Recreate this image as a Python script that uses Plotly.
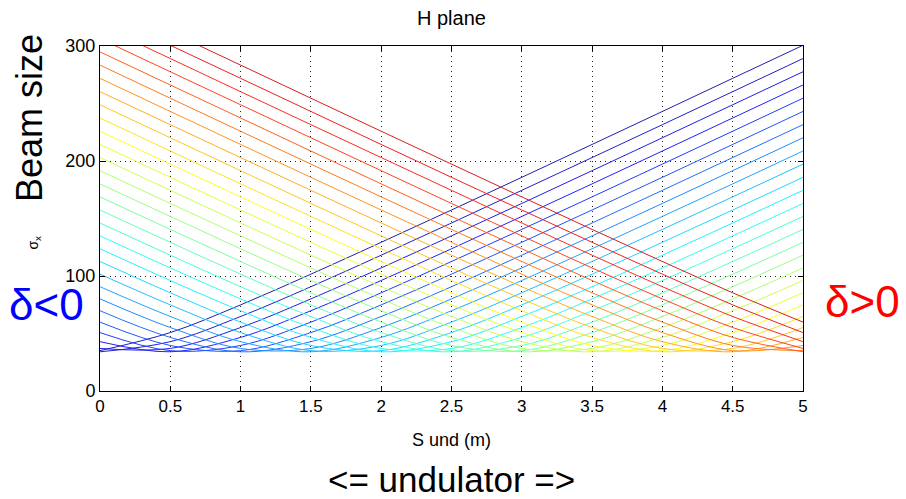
import plotly.graph_objects as go

# ---- data ----
s_und = [0.0, 0.5, 1.0, 1.5, 2.0, 2.5, 3.0, 3.5, 4.0, 4.5, 5.0]
x_ticks = [0, 0.5, 1, 1.5, 2, 2.5, 3, 3.5, 4, 4.5, 5]
x_tick_labels = ["0", "0.5", "1", "1.5", "2", "2.5", "3", "3.5", "4", "4.5", "5"]
y_ticks = [0, 100, 200, 300]
y_tick_labels = ["0", "100", "200", "300"]

sx_01 = [35.1, 50.8, 74.9, 101.6, 129.3, 157.4, 185.8, 214.4, 243.1, 271.9, 300.6]
sx_02 = [34.1, 42.9, 64.8, 90.7, 118.1, 146.1, 174.5, 203.0, 231.6, 260.3, 289.1]
sx_03 = [37.0, 37.0, 55.2, 80.1, 107.0, 134.9, 163.1, 191.6, 220.2, 248.9, 277.6]
sx_04 = [42.9, 34.1, 46.6, 69.8, 96.1, 123.7, 151.8, 180.1, 208.7, 237.4, 266.1]
sx_05 = [50.8, 35.1, 39.6, 59.9, 85.4, 112.6, 140.5, 168.8, 197.3, 225.9, 254.6]
sx_06 = [59.9, 39.6, 35.1, 50.8, 74.9, 101.6, 129.3, 157.4, 185.8, 214.4, 243.1]
sx_07 = [69.8, 46.6, 34.1, 42.9, 64.8, 90.7, 118.1, 146.1, 174.5, 203.0, 231.6]
sx_08 = [80.1, 55.2, 37.0, 37.0, 55.2, 80.1, 107.0, 134.9, 163.1, 191.6, 220.2]
sx_09 = [90.7, 64.8, 42.9, 34.1, 46.6, 69.8, 96.1, 123.7, 151.8, 180.1, 208.7]
sx_10 = [101.6, 74.9, 50.8, 35.1, 39.6, 59.9, 85.4, 112.6, 140.5, 168.8, 197.3]
sx_11 = [112.6, 85.4, 59.9, 39.6, 35.1, 50.8, 74.9, 101.6, 129.3, 157.4, 185.8]
sx_12 = [123.7, 96.1, 69.8, 46.6, 34.1, 42.9, 64.8, 90.7, 118.1, 146.1, 174.5]
sx_13 = [134.9, 107.0, 80.1, 55.2, 37.0, 37.0, 55.2, 80.1, 107.0, 134.9, 163.1]
sx_14 = [146.1, 118.1, 90.7, 64.8, 42.9, 34.1, 46.6, 69.8, 96.1, 123.7, 151.8]
sx_15 = [157.4, 129.3, 101.6, 74.9, 50.8, 35.1, 39.6, 59.9, 85.4, 112.6, 140.5]
sx_16 = [168.8, 140.5, 112.6, 85.4, 59.9, 39.6, 35.1, 50.8, 74.9, 101.6, 129.3]
sx_17 = [180.1, 151.8, 123.7, 96.1, 69.8, 46.6, 34.1, 42.9, 64.8, 90.7, 118.1]
sx_18 = [191.6, 163.1, 134.9, 107.0, 80.1, 55.2, 37.0, 37.0, 55.2, 80.1, 107.0]
sx_19 = [203.0, 174.5, 146.1, 118.1, 90.7, 64.8, 42.9, 34.1, 46.6, 69.8, 96.1]
sx_20 = [214.4, 185.8, 157.4, 129.3, 101.6, 74.9, 50.8, 35.1, 39.6, 59.9, 85.4]
sx_21 = [225.9, 197.3, 168.8, 140.5, 112.6, 85.4, 59.9, 39.6, 35.1, 50.8, 74.9]
sx_22 = [237.4, 208.7, 180.1, 151.8, 123.7, 96.1, 69.8, 46.6, 34.1, 42.9, 64.8]
sx_23 = [248.9, 220.2, 191.6, 163.1, 134.9, 107.0, 80.1, 55.2, 37.0, 37.0, 55.2]
sx_24 = [260.3, 231.6, 203.0, 174.5, 146.1, 118.1, 90.7, 64.8, 42.9, 34.1, 46.6]
sx_25 = [271.9, 243.1, 214.4, 185.8, 157.4, 129.3, 101.6, 74.9, 50.8, 35.1, 39.6]
sx_26 = [283.4, 254.6, 225.9, 197.3, 168.8, 140.5, 112.6, 85.4, 59.9, 39.6, 35.1]
sx_27 = [294.9, 266.1, 237.4, 208.7, 180.1, 151.8, 123.7, 96.1, 69.8, 46.6, 34.1]
sx_28 = [306.4, 277.6, 248.9, 220.2, 191.6, 163.1, 134.9, 107.0, 80.1, 55.2, 37.0]
sx_29 = [317.9, 289.1, 260.3, 231.6, 203.0, 174.5, 146.1, 118.1, 90.7, 64.8, 42.9]
sx_30 = [329.5, 300.6, 271.9, 243.1, 214.4, 185.8, 157.4, 129.3, 101.6, 74.9, 50.8]
sx_31 = [341.0, 312.2, 283.4, 254.6, 225.9, 197.3, 168.8, 140.5, 112.6, 85.4, 59.9]

curves = [sx_01, sx_02, sx_03, sx_04, sx_05, sx_06, sx_07, sx_08, sx_09, sx_10,
          sx_11, sx_12, sx_13, sx_14, sx_15, sx_16, sx_17, sx_18, sx_19, sx_20,
          sx_21, sx_22, sx_23, sx_24, sx_25, sx_26, sx_27, sx_28, sx_29, sx_30, sx_31]


def jet(t, lighten=0.12):
    def c(v):
        return max(0.0, min(1.0, v))
    r = c(1.5 - abs(4 * t - 3))
    g = c(1.5 - abs(4 * t - 2))
    b = c(1.5 - abs(4 * t - 1))
    r, g, b = (v + (1 - v) * lighten for v in (r, g, b))
    return "rgb(%d,%d,%d)" % (round(255 * r), round(255 * g), round(255 * b))


FONT = "Liberation Sans"
fig = go.Figure()
n = len(curves)
for i, ys in enumerate(curves):
    t = 0.04 + 0.88 * i / (n - 1)
    fig.add_trace(go.Scatter(
        x=s_und, y=ys, mode="lines",
        line=dict(color=jet(t), width=1, shape="spline"),
        showlegend=False, hoverinfo="skip"))

axis_common = dict(
    showline=True, linecolor="black", linewidth=1, mirror="ticks",
    ticks="inside", ticklen=5, tickcolor="black",
    showgrid=True, gridcolor="#222222", griddash="1px,4px", gridwidth=1,
    zeroline=False, tickfont=dict(family=FONT, size=17, color="black"),
)

fig.update_layout(
    width=906, height=499,
    margin=dict(l=100, r=103, t=46, b=108),
    paper_bgcolor="white", plot_bgcolor="white",
    xaxis=dict(range=[0, 5], tickvals=x_ticks, ticktext=x_tick_labels, **axis_common),
    yaxis=dict(range=[0, 300], tickvals=y_ticks, ticktext=y_tick_labels,
               **{**axis_common, "tickfont": dict(family=FONT, size=18, color="black")}),
    font=dict(family=FONT, color="black"),
)

ann = [
    dict(text="H plane", x=0.5, y=1.081, size=20, color="black", angle=0),
    dict(text="S und (m)", x=0.5, y=-0.142, size=18, color="black", angle=0),
    dict(text="&lt;= undulator =&gt;", x=0.5, y=-0.257, size=35, color="black", angle=0),
    dict(text="Beam size", x=-0.101, y=0.791, size=36, color="black", angle=-90),
    dict(text="σ<sub>x</sub>", x=-0.094, y=0.43, size=14, color="black", angle=-90),
    dict(text="δ&lt;0", x=-0.0754, y=0.252, size=44, color="blue", angle=0),
    dict(text="δ&gt;0", x=1.084, y=0.258, size=44, color="red", angle=0),
]
for a in ann:
    fig.add_annotation(text=a["text"], x=a["x"], y=a["y"], xref="paper", yref="paper",
                       xanchor="center", yanchor="middle", showarrow=False,
                       textangle=a["angle"],
                       font=dict(family=FONT, size=a["size"], color=a["color"]))

fig.write_html("out.html", config={"displayModeBar": False},
               post_script="document.body.style.margin='0px';")
